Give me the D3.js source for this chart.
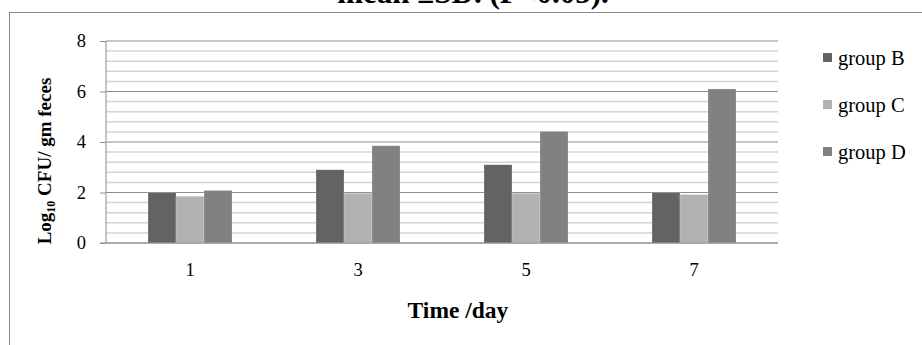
<!DOCTYPE html>
<html>
<head>
<meta charset="utf-8">
<script src="https://cdn.jsdelivr.net/npm/d3@7"></script>
<style>
  body { margin: 0; background: #fff; }
  text { font-family: "Liberation Serif", "Times New Roman", serif; fill: #000; }
</style>
</head>
<body>
<div id="chart"></div>
<script>
// data
var days = ["1", "3", "5", "7"];
var groups = ["group B", "group C", "group D"];
var groupB = [2.0, 2.9, 3.1, 2.0];
var groupC = [1.85, 1.97, 1.97, 1.92];
var groupD = [2.08, 3.85, 4.42, 6.1];
var yTicks = [0, 2, 4, 6, 8];
var colors = ["#636363", "#b2b2b2", "#818181"];

var allSeries = [groupB, groupC, groupD];
var serif = "'Liberation Serif', 'Times New Roman', serif";

var width = 922, height = 345;
var margin = {top: 41, right: 144, bottom: 102, left: 106};

var svg = d3.select("#chart")
  .append("svg")
    .attr("width", width)
    .attr("height", height);

// outer frame of the chart area (runs off the page right and bottom)
svg.append("rect")
  .attr("x", 9.5)
  .attr("y", 12.5)
  .attr("width", 1000)
  .attr("height", 400)
  .attr("fill", "none")
  .attr("stroke", "#8a8a8a");

// title, cut off at the top like in the source
svg.append("text")
  .attr("x", 473)
  .attr("y", 3)
  .attr("text-anchor", "middle")
  .style("font-weight", "bold")
  .style("font-size", "31px")
  .text("mean ±SD. (P<0.05).");

var x0 = d3.scaleBand()
  .domain(days)
  .range([margin.left, width - margin.right])
  .paddingInner(0.5)
  .paddingOuter(0.25);

var x1 = d3.scaleBand()
  .domain(d3.range(groups.length))
  .range([0, x0.bandwidth()]);

var y = d3.scaleLinear()
  .domain([0, 8])
  .range([height - margin.bottom, margin.top]);

// minor grid lines every 0.4
var minor = d3.range(0, 8.001, 0.4).filter(function(v) {
  return Math.abs(v / 2 - Math.round(v / 2)) > 0.01;
});
svg.append("g")
  .selectAll("line")
  .data(minor)
  .enter().append("line")
    .attr("x1", margin.left)
    .attr("x2", width - margin.right)
    .attr("y1", function(d) { return y(d); })
    .attr("y2", function(d) { return y(d); })
    .attr("stroke", "#d4d4d4")
    .attr("stroke-width", 1.5);

// major grid lines
svg.append("g")
  .selectAll("line")
  .data(yTicks)
  .enter().append("line")
    .attr("x1", margin.left)
    .attr("x2", width - margin.right)
    .attr("y1", function(d) { return y(d); })
    .attr("y2", function(d) { return y(d); })
    .attr("stroke", "#8e8e8e")
    .attr("stroke-width", 1.2);

// bars
allSeries.forEach(function(series, gi) {
  svg.append("g")
    .selectAll("rect")
    .data(series)
    .enter().append("rect")
      .attr("x", function(d, i) { return x0(days[i]) + x1(gi); })
      .attr("y", function(d) { return y(d); })
      .attr("width", x1.bandwidth())
      .attr("height", function(d) { return y(0) - y(d); })
      .attr("fill", colors[gi])
      .attr("stroke", "#ffffff")
      .attr("stroke-opacity", 0.25)
      .attr("stroke-width", 0.8);
});

// Y axis
var yAxis = svg.append("g")
  .attr("transform", "translate(" + margin.left + ",0)")
  .call(d3.axisLeft(y).tickValues(yTicks).tickSize(6).tickPadding(14));
yAxis.attr("font-family", serif).attr("font-size", 18);
yAxis.select(".domain").attr("stroke", "#8e8e8e").attr("d", "M0," + y(8) + "V" + y(0));
yAxis.selectAll(".tick line").attr("stroke", "#8e8e8e");
yAxis.selectAll("text")
  .style("font-size", "18.5px")
  .style("font-family", serif);

// X axis
var xAxis = svg.append("g")
  .attr("transform", "translate(0," + y(0) + ")")
  .call(d3.axisBottom(x0).tickSize(0).tickPadding(20));
xAxis.attr("font-family", serif).attr("font-size", 18);
xAxis.select(".domain").attr("stroke", "#8e8e8e").attr("d", "M" + (margin.left - 6) + ",0H" + (width - margin.right));
xAxis.selectAll("text")
  .style("font-size", "18.5px")
  .style("font-family", serif);

// axis titles
svg.append("text")
  .attr("x", 458)
  .attr("y", 318)
  .attr("text-anchor", "middle")
  .style("font-weight", "bold")
  .style("font-size", "23.5px")
  .text("Time /day");

var yTitle = svg.append("text")
  .attr("transform", "translate(51,161) rotate(-90)")
  .attr("text-anchor", "middle")
  .style("font-weight", "bold")
  .style("font-size", "19px");
yTitle.append("tspan").text("Log");
yTitle.append("tspan").attr("dy", 4).style("font-size", "12px").text("10");
yTitle.append("tspan").attr("dy", -4).text(" CFU/ gm feces");

// legend
var legend = svg.append("g")
  .selectAll("g")
  .data(groups)
  .enter().append("g")
    .attr("transform", function(d, i) { return "translate(823," + (58 + i * 47) + ")"; });
legend.append("rect")
  .attr("x", 0)
  .attr("y", -5)
  .attr("width", 9)
  .attr("height", 9)
  .attr("fill", function(d, i) { return colors[i]; });
legend.append("text")
  .attr("x", 15)
  .attr("y", 7)
  .style("font-size", "20.5px")
  .text(function(d) { return d; });
</script>
</body>
</html>
